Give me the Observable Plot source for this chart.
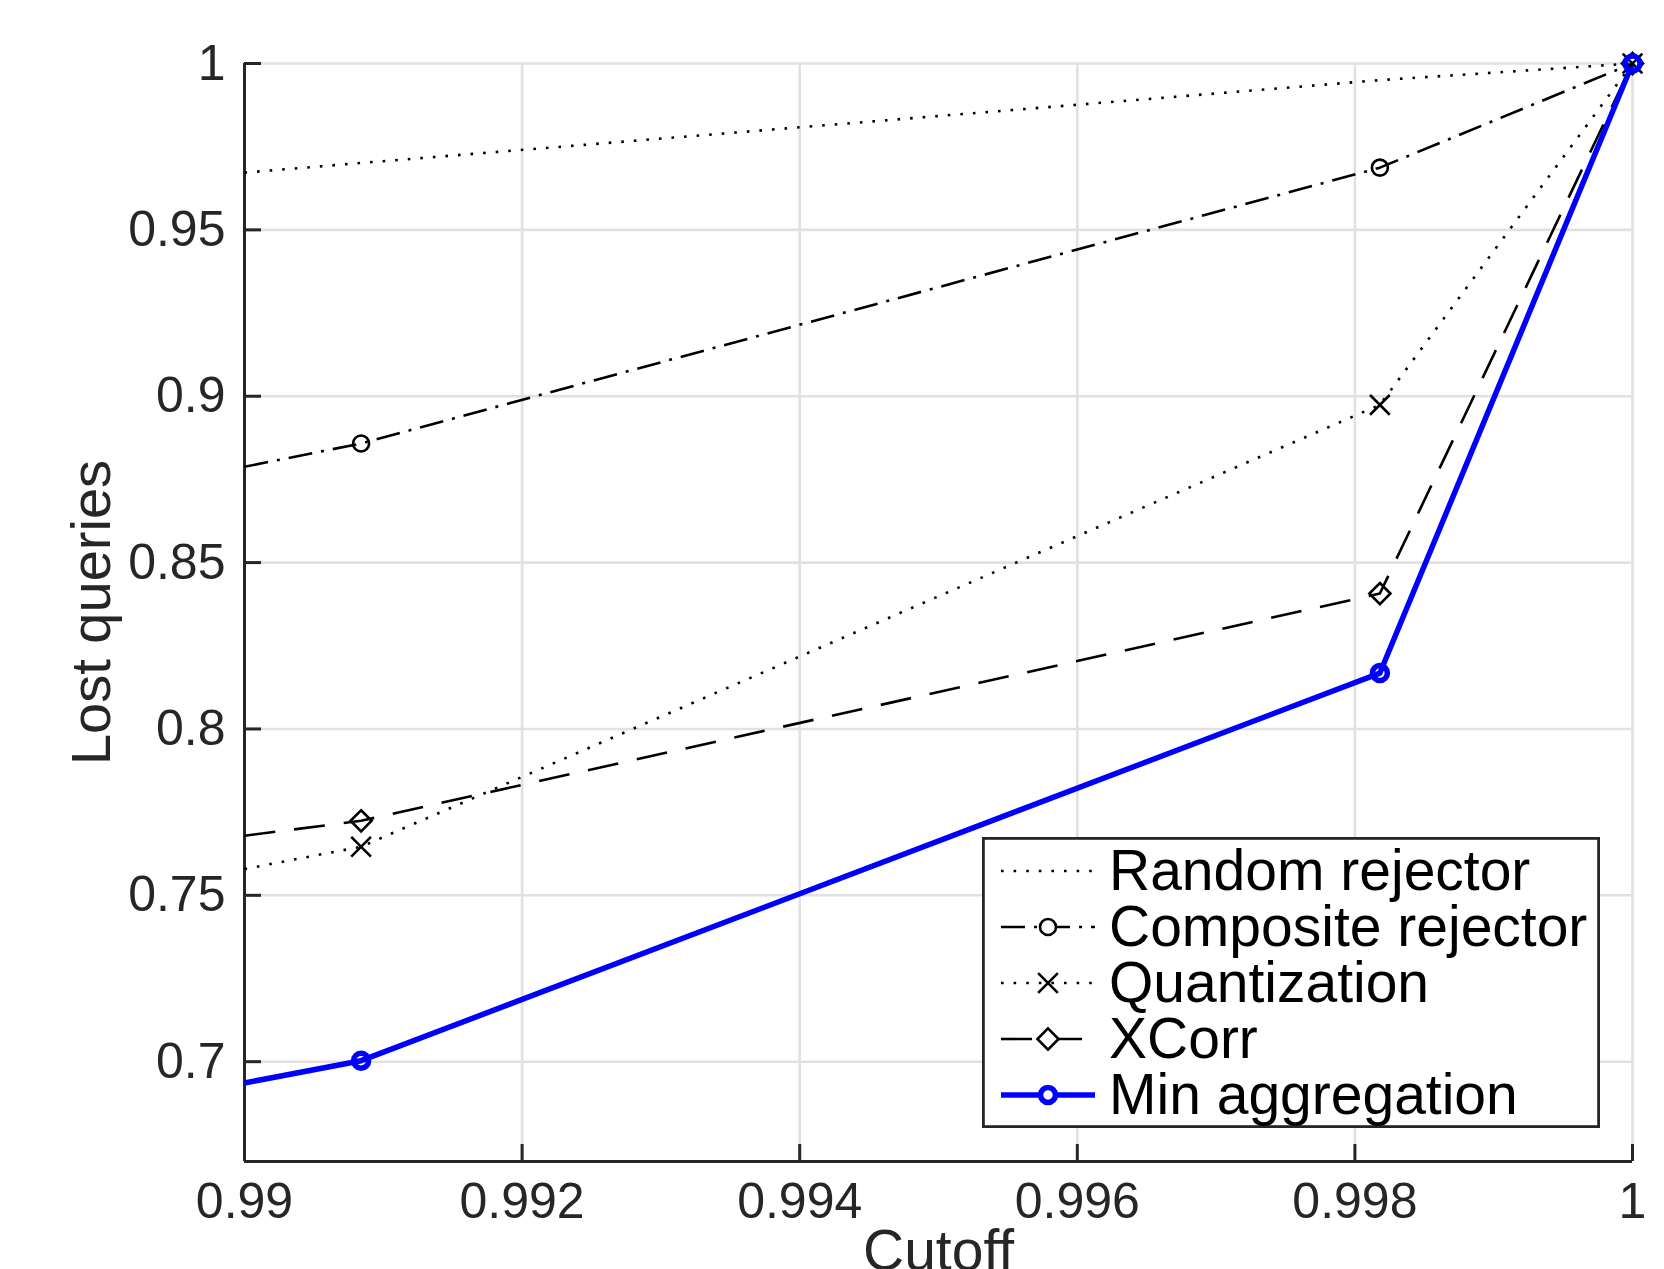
<!DOCTYPE html>
<html><head><meta charset="utf-8">
<script src="https://cdn.jsdelivr.net/npm/d3@7"></script>
<script src="https://cdn.jsdelivr.net/npm/@observablehq/plot@0.6"></script>
<style>
html,body{margin:0;padding:0;background:#fff;overflow:hidden}
#wrap{position:relative;width:1664px;height:1269px;overflow:hidden;font-family:"Liberation Sans",Arial,Helvetica,sans-serif}
#wrap svg{display:block}
</style></head><body><div id="wrap"></div>
<script>
// ---- data ----
const cutoffs = [0.99, 0.99084, 0.99818, 1];
const seriesNames = ["Random rejector", "Composite rejector", "Quantization", "XCorr", "Min aggregation"];
const randomRejector   = [0.9672, 0.9701, 0.9950, 1.0];
const compositeRejector = [0.8788, 0.8858, 0.9687, 1.0];
const quantization     = [0.7579, 0.7646, 0.8974, 1.0];
const xcorr            = [0.7679, 0.7724, 0.8407, 1.0];
const minAggregation   = [0.6936, 0.7003, 0.8168, 1.0];
const xTicks = [0.99, 0.992, 0.994, 0.996, 0.998, 1];
const xTickLabels = ["0.99", "0.992", "0.994", "0.996", "0.998", "1"];
const yTicks = [0.7, 0.75, 0.8, 0.85, 0.9, 0.95, 1];
const yTickLabels = ["0.7", "0.75", "0.8", "0.85", "0.9", "0.95", "1"];
const xDomain = [0.99, 1];
const yDomain = [0.67, 1];
const xLabel = "Cutoff";
const yLabel = "Lost queries";

// ---- styles ----
const styles = {
  "Random rejector":   {stroke: "#000", width: 2.6, dash: "2.6 10", symbol: null},
  "Composite rejector":{stroke: "#000", width: 2.6, dash: "24 9 3 9", symbol: "circle", r: 8, sw: 2.6},
  "Quantization":      {stroke: "#000", width: 2.6, dash: "2.6 10", symbol: "times", r: 9, sw: 2.6},
  "XCorr":             {stroke: "#000", width: 2.6, dash: "31 19", symbol: "diamond2", r: 9.5, sw: 2.6},
  "Min aggregation":   {stroke: "#0000ff", width: 5.5, dash: null, symbol: "circle", r: 7.5, sw: 5.5}
};
const valuesBySeries = [randomRejector, compositeRejector, quantization, xcorr, minAggregation];
const rows = seriesNames.map((name, i) => cutoffs.map((c, j) => ({series: name, cutoff: c, value: valuesBySeries[i][j]})));

const W = 1664, H = 1269, mL = 244, mR = 32, mT = 63, mB = 108;
const innerW = W - mL - mR, innerH = H - mT - mB;
const axisColor = "#262626";
const fontFam = '"Liberation Sans", Arial, Helvetica, sans-serif';

const marks = [
  Plot.gridX(xTicks, {stroke: "#e1e1e1", strokeOpacity: 1, strokeWidth: 2.6}),
  Plot.gridY(yTicks, {stroke: "#e1e1e1", strokeOpacity: 1, strokeWidth: 2.6}),
  Plot.ruleX([xDomain[0]], {stroke: axisColor, strokeWidth: 3}),
  Plot.ruleY([yDomain[0]], {stroke: axisColor, strokeWidth: 3}),
  Plot.tickX(xTicks, {x: d => d, stroke: axisColor, strokeWidth: 3, insetTop: innerH - 17}),
  Plot.tickY(yTicks, {y: d => d, stroke: axisColor, strokeWidth: 3, insetRight: innerW - 17}),
  Plot.axisX(xTicks, {tickSize: 0, tickPadding: 21, tickFormat: (d, i) => xTickLabels[i], fontSize: 50, fill: axisColor, label: null}),
  Plot.axisY(yTicks, {tickSize: 0, tickPadding: 19, tickFormat: (d, i) => yTickLabels[i], fontSize: 50, fill: axisColor, label: null}),
  Plot.text([xLabel], {frameAnchor: "bottom", lineAnchor: "top", textAnchor: "middle", dy: 68, fontSize: 57, fill: axisColor}),
  Plot.text([yLabel], {frameAnchor: "left", lineAnchor: "bottom", textAnchor: "middle", rotate: -90, dx: -135, fontSize: 56, fill: axisColor})
];
rows.forEach(data => {
  const s = styles[data[0].series];
  marks.push(Plot.line(data, {x: "cutoff", y: "value", stroke: s.stroke, strokeWidth: s.width,
    strokeDasharray: s.dash || undefined, strokeLinecap: "butt", strokeLinejoin: "round"}));
});
rows.forEach(data => {
  const s = styles[data[0].series];
  if (!s.symbol) return;
  marks.push(Plot.dot(data.filter(d => d.cutoff > xDomain[0]), {x: "cutoff", y: "value", symbol: s.symbol, r: s.r,
    stroke: s.stroke, strokeWidth: s.sw, fill: "none"}));
});

const chart = Plot.plot({
  width: W, height: H, marginLeft: mL, marginRight: mR, marginTop: mT, marginBottom: mB,
  x: {domain: xDomain, axis: null},
  y: {domain: yDomain, axis: null},
  style: {fontFamily: fontFam, background: "white", overflow: "visible"},
  marks
});
const wrap = document.getElementById("wrap");
wrap.appendChild(chart);

// ---- legend (inside the axes, bottom right) ----
const legW = 618, legH = 291;
const leg = d3.select(wrap).append("svg")
  .attr("width", legW).attr("height", legH)
  .style("position", "absolute").style("left", "982px").style("top", "837px")
  .style("font-family", fontFam);
leg.append("rect").attr("x", 1.4).attr("y", 1.4).attr("width", legW - 2.8).attr("height", legH - 2.8)
  .attr("fill", "#fff").attr("stroke", axisColor).attr("stroke-width", 2.8);
const symMap = {circle: d3.symbolCircle, times: d3.symbolTimes, diamond2: d3.symbolDiamond2};
seriesNames.forEach((name, i) => {
  const s = styles[name];
  const cy = 34 + i * 56;
  leg.append("line").attr("x1", 19).attr("x2", 113).attr("y1", cy).attr("y2", cy)
    .attr("stroke", s.stroke).attr("stroke-width", s.width)
    .attr("stroke-dasharray", s.dash || null);
  if (s.symbol) {
    leg.append("path").attr("transform", `translate(66,${cy})`)
      .attr("d", d3.symbol().type(symMap[s.symbol]).size(Math.PI * s.r * s.r)())
      .attr("fill", "#fff").attr("stroke", s.stroke).attr("stroke-width", s.sw);
  }
  leg.append("text").attr("x", 127).attr("y", cy).attr("dy", "0.34em")
    .attr("font-size", 57).attr("fill", "#000").text(name);
});
</script></body></html>
